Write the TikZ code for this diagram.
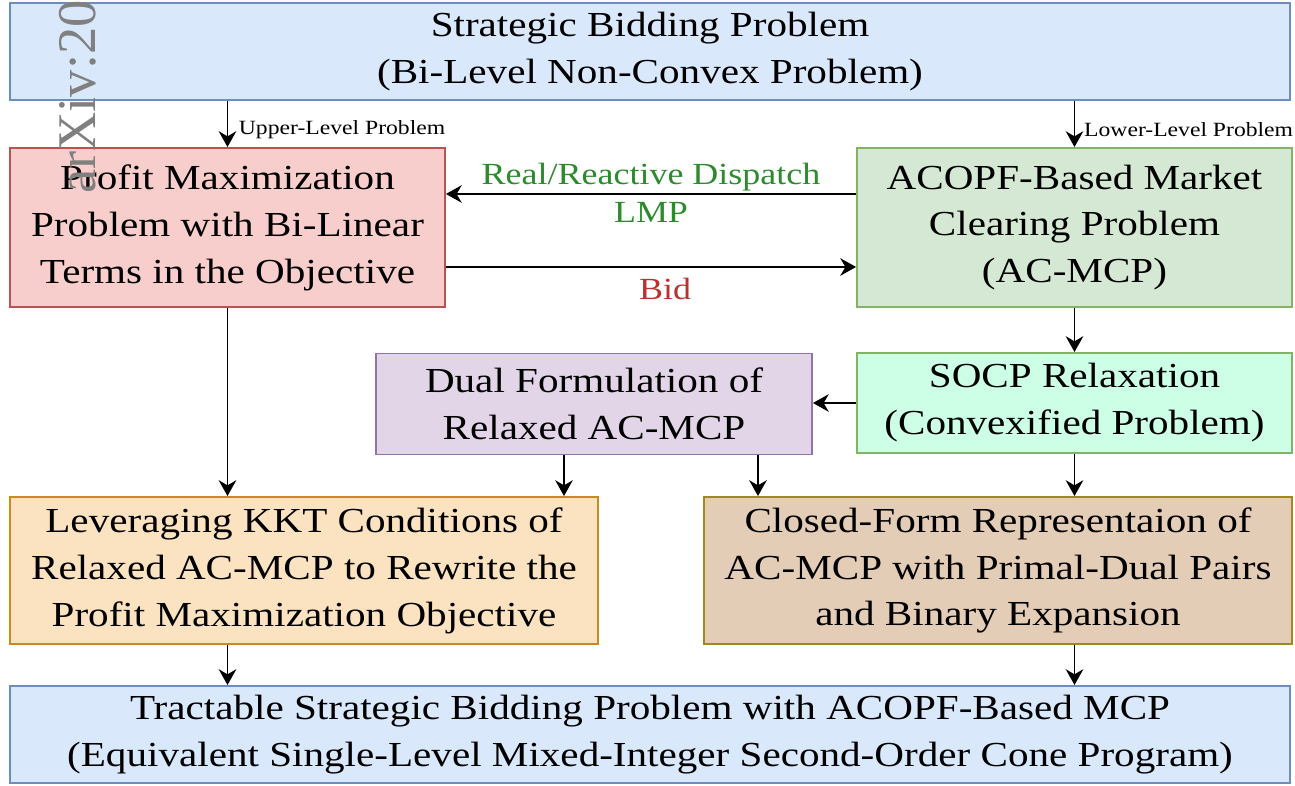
\documentclass[tikz,border=0pt]{standalone}
\usepackage{fontspec}
\setmainfont{Liberation Serif}[FakeStretch=1.17]
\newfontfamily\wmfont{Liberation Serif}
\usetikzlibrary{arrows.meta,positioning,calc}

\definecolor{bluefill}{HTML}{DAE8FC}\definecolor{blueline}{HTML}{6C8EBF}
\definecolor{redfill}{HTML}{F8CECC}\definecolor{redline}{HTML}{B85450}
\definecolor{grnfill}{HTML}{D5E8D4}\definecolor{grnline}{HTML}{82B366}
\definecolor{purfill}{HTML}{E1D5E7}\definecolor{purline}{HTML}{9673A6}
\definecolor{mntfill}{HTML}{CCFFE6}
\definecolor{orgfill}{HTML}{FBE2C0}\definecolor{orgline}{HTML}{C98A1E}
\definecolor{brnfill}{HTML}{E4CDB6}\definecolor{brnline}{HTML}{A08A1E}
\definecolor{lblgreen}{HTML}{2D8A2D}\definecolor{lblred}{HTML}{B83232}

\begin{document}
\begin{tikzpicture}[x=0.02cm, y=-0.02cm,
  every node/.style={font=\fontsize{20}{26.7}\selectfont},
  blk/.style={draw, rectangle, line width=1.1pt, align=center, inner sep=2pt},
  wide/.style={blk, minimum width=25.6cm, minimum height=1.94cm},
  sml/.style={font=\fontsize{11.5}{13}\selectfont, inner sep=3pt},
  lbl/.style={font=\fontsize{17.5}{21}\selectfont, inner sep=1pt},
  ar/.style={-{Stealth[length=9pt,width=10pt]}, line width=1pt}]

\useasboundingbox (0,0) rectangle (1295,786);

%% ---- TOP ROW ----
\node[wide, fill=bluefill, draw=blueline] (TOP) at (650,51.5)
  {Strategic Bidding Problem \\ (Bi-Level Non-Convex Problem)};

%% ---- UPPER / LOWER LEVEL ----
\node[blk, fill=redfill, draw=redline, minimum width=8.7cm, minimum height=3.18cm]
  (PROF) at (227.5,227.5) {Profit Maximization \\ Problem with Bi-Linear \\ Terms in the Objective};
\node[blk, fill=grnfill, draw=grnline, minimum width=8.7cm, minimum height=3.18cm]
  (MCP) at (1074.5,227.5) {ACOPF-Based Market \\ Clearing Problem \\ (AC-MCP)};

%% ---- RELAXATION ROW ----
\node[blk, fill=purfill, draw=purline, minimum width=8.72cm, minimum height=2.02cm]
  (DUAL) at (594,404) {Dual Formulation of \\ Relaxed AC-MCP};
\node[blk, fill=mntfill, draw=grnline, minimum width=8.7cm, minimum height=2.0cm]
  (SOCP) at (1074.5,403) {SOCP Relaxation \\ (Convexified Problem)};

%% ---- REFORMULATION ROW ----
\node[blk, fill=orgfill, draw=orgline, minimum width=11.76cm, minimum height=2.94cm]
  (KKT) at (304,570.5) {Leveraging KKT Conditions of \\ Relaxed AC-MCP to Rewrite the \\ Profit Maximization Objective};
\node[blk, fill=brnfill, draw=brnline, minimum width=11.76cm, minimum height=2.94cm]
  (CLSD) at (998,570.5) {Closed-Form Representaion of \\ AC-MCP with Primal-Dual Pairs \\ and Binary Expansion};

%% ---- BOTTOM ROW ----
\node[wide, fill=bluefill, draw=blueline] (BOT) at (650,734.5)
  {Tractable Strategic Bidding Problem with ACOPF-Based MCP \\ (Equivalent Single-Level Mixed-Integer Second-Order Cone Program)};

%% --- Arrows ---
\draw[ar] (TOP.south -| PROF.north) -- node[sml, right, yshift=-3pt, xshift=3pt]{Upper-Level Problem} (PROF.north);
\draw[ar] (TOP.south -| MCP.north)  -- node[sml, right, yshift=-3pt, xshift=2pt]{Lower-Level Problem} (MCP.north);
\draw[ar] ([yshift=0.67cm]MCP.west) -- node[lbl, above, text=lblgreen]{Real/Reactive Dispatch}
  node[lbl, below=3pt, text=lblgreen]{LMP} ([yshift=0.67cm]PROF.east);
\draw[ar] ([yshift=-0.79cm]PROF.east) -- node[lbl, below=5pt, text=lblred, xshift=8pt]{Bid} ([yshift=-0.79cm]MCP.west);
\draw[ar] (MCP) -- (SOCP);
\draw[ar] (SOCP.west) -- (SOCP.west -| DUAL.east);
\draw[ar] (PROF) -- (PROF.south |- KKT.north);
\draw[ar] ([xshift=-0.6cm]DUAL.south) -- ([xshift=-0.6cm]DUAL.south |- KKT.north);
\draw[ar] ([xshift=3.28cm]DUAL.south) -- ([xshift=3.28cm]DUAL.south |- CLSD.north);
\draw[ar] (SOCP) -- (SOCP.south |- CLSD.north);
\draw[ar] (KKT.south -| PROF.south) -- (PROF.south |- BOT.north);
\draw[ar] (CLSD.south -| MCP.south) -- (MCP.south |- BOT.north);

%% --- Watermark ---
\node[rotate=90, text=gray, font=\wmfont\fontsize{31}{31}\selectfont, inner sep=0pt] (WM) at (78,97) {arXiv:20};
\end{tikzpicture}
\end{document}
